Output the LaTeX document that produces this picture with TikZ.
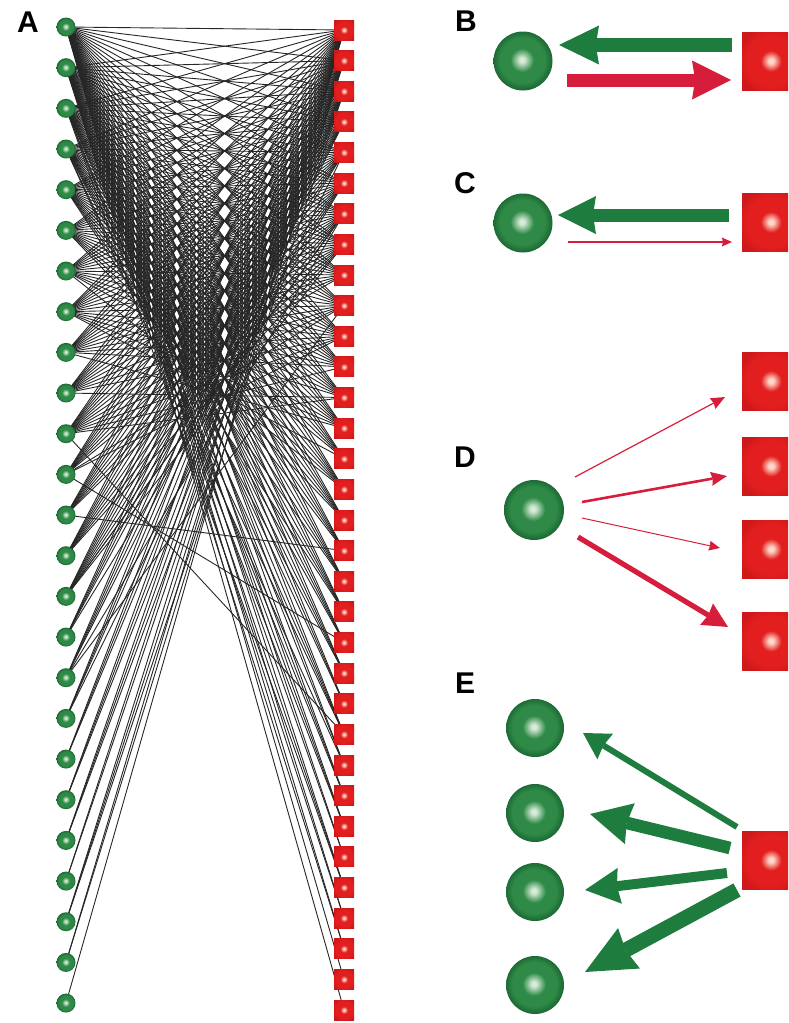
\documentclass[tikz,border=0pt]{standalone}
\usepackage{fontspec}
\setsansfont{Liberation Sans}
\usetikzlibrary{arrows.meta,backgrounds,calc}

\definecolor{leafgreen}{RGB}{30,124,62}
\definecolor{arrowred}{RGB}{214,30,60}
\definecolor{boxred}{RGB}{226,30,30}
\definecolor{boxedge}{RGB}{206,24,26}
\definecolor{boxlight}{RGB}{255,216,200}
\definecolor{balldark}{RGB}{28,104,52}
\definecolor{ballmid}{RGB}{46,138,70}
\definecolor{balllight}{RGB}{215,235,215}

\pgfdeclareradialshading{ballglow}{\pgfpoint{-1bp}{1bp}}{%
  color(0bp)=(balllight); color(2bp)=(balllight); color(10bp)=(ballmid);
  color(19bp)=(ballmid); color(25bp)=(balldark); color(50bp)=(balldark)}
\pgfdeclareradialshading{boxglow}{\pgfpoint{0bp}{0bp}}{%
  color(0bp)=(boxlight); color(2bp)=(boxlight); color(9bp)=(boxred);
  color(22bp)=(boxred); color(30bp)=(boxedge); color(50bp)=(boxedge)}

\tikzset{
  gnode/.style={circle, inner sep=0pt, minimum size=#1, shading=ballglow},
  rnode/.style={rectangle, inner sep=0pt, minimum size=#1, shading=boxglow},
  link/.style={line width=0.45pt, black!85},
  tag/.style={font=\sffamily\bfseries\fontsize{15}{15}\selectfont},
  garrow/.style n args={3}{leafgreen, line width=#1,
    -{Stealth[length=#2, width=#3, inset'=0pt 0.08, line width=0pt]}},
  rarrow/.style n args={3}{arrowred, line width=#1,
    -{Stealth[length=#2, width=#3, inset'=0pt 0.08, line width=0pt]}},
}

\begin{document}
\begin{tikzpicture}[x=0.5pt, y=-0.5pt]
\useasboundingbox (0,0) rectangle (788,1023);
\clip (0,0) rectangle (788,1023);

\node[tag] at (28,22) {A};
\foreach \i in {0,...,24}
  \node[gnode=9.5pt] (g\i) at (66,{27+40.67*\i}) {};
\foreach \j in {0,...,32}
  \node[rnode=10pt] (r\j) at (344,{30+30.625*\j}) {};
\pgfmathsetseed{11}
\begin{pgfonlayer}{background}
  \foreach \i in {0,...,24}
    \foreach \j in {0,...,32} {
      \pgfmathtruncatemacro\keep{(\i==0)||(\j==0)||(\i/24+\j/32+\i*\j/384+0.24*(rnd-0.5)<1)}
      \ifnum\keep=1 \draw[link] (g\i.center) -- (r\j.center); \fi
    }
  \foreach \i/\j in {10/23,11/20,12/17,14/6,16/9}
    \draw[link] (g\i.center) -- (r\j.center);
\end{pgfonlayer}

\node[tag] at (466,21) {B};
\node[gnode=29.5pt] (bg) at (523,61) {};
\node[rnode=29pt] (br) at (771,61) {};
\draw[garrow={7pt}{20pt}{19.5pt}] ($(br)+(-39,-16)$) -- ($(bg)+(36,-16)$);
\draw[rarrow={6.5pt}{19.5pt}{19.5pt}] ($(bg)+(44,19)$) -- ($(br)+(-40,19)$);

\node[tag] at (465,183) {C};
\node[gnode=29.5pt] (cg) at (523,223) {};
\node[rnode=29pt] (cr) at (771,222) {};
\draw[garrow={6.5pt}{19pt}{19pt}] ($(cr)+(-42,-7)$) -- ($(cg)+(35,-8)$);
\draw[rarrow={0.75pt}{5pt}{4.5pt}] ($(cg)+(45,19)$) -- ($(cr)+(-39,20)$);

\node[tag] at (465,457) {D};
\node[gnode=30pt] (dg) at (534,510) {};
\foreach \k/\y in {1/381,2/466,3/549,4/641}
  \node[rnode=29pt] (dr\k) at (771,\y) {};
\draw[rarrow={0.6pt}{7pt}{6pt}] ($(dg)+(41,-33)$) -- ($(dr1)+(-46,16)$);
\draw[rarrow={1.3pt}{8pt}{7pt}] ($(dg)+(48,-8)$) -- ($(dr2)+(-44,10)$);
\draw[rarrow={0.5pt}{5.5pt}{5pt}] ($(dg)+(48,8)$) -- ($(dr3)+(-51,-1)$);
\draw[rarrow={2.6pt}{12.5pt}{12.5pt}] ($(dg)+(44,27)$) -- ($(dr4)+(-43,-14)$);

\node[tag] at (465,683) {E};
\foreach \k/\y in {1/728,2/813,3/892,4/985}
  \node[gnode=29pt] (eg\k) at (535,\y) {};
\node[rnode=29pt] (er) at (771,860) {};
\draw[garrow={3pt}{13pt}{15pt}] ($(er)+(-34,-33)$) -- ($(eg1)+(48,5)$);
\draw[garrow={6.3pt}{20.5pt}{21pt}] ($(er)+(-41,-12)$) -- ($(eg2)+(55,1)$);
\draw[garrow={5pt}{17.5pt}{18pt}] ($(er)+(-44,13)$) -- ($(eg3)+(50,-2)$);
\draw[garrow={7.5pt}{25pt}{23pt}] ($(er)+(-34,30)$) -- ($(eg4)+(50,-13)$);
\end{tikzpicture}
\end{document}
